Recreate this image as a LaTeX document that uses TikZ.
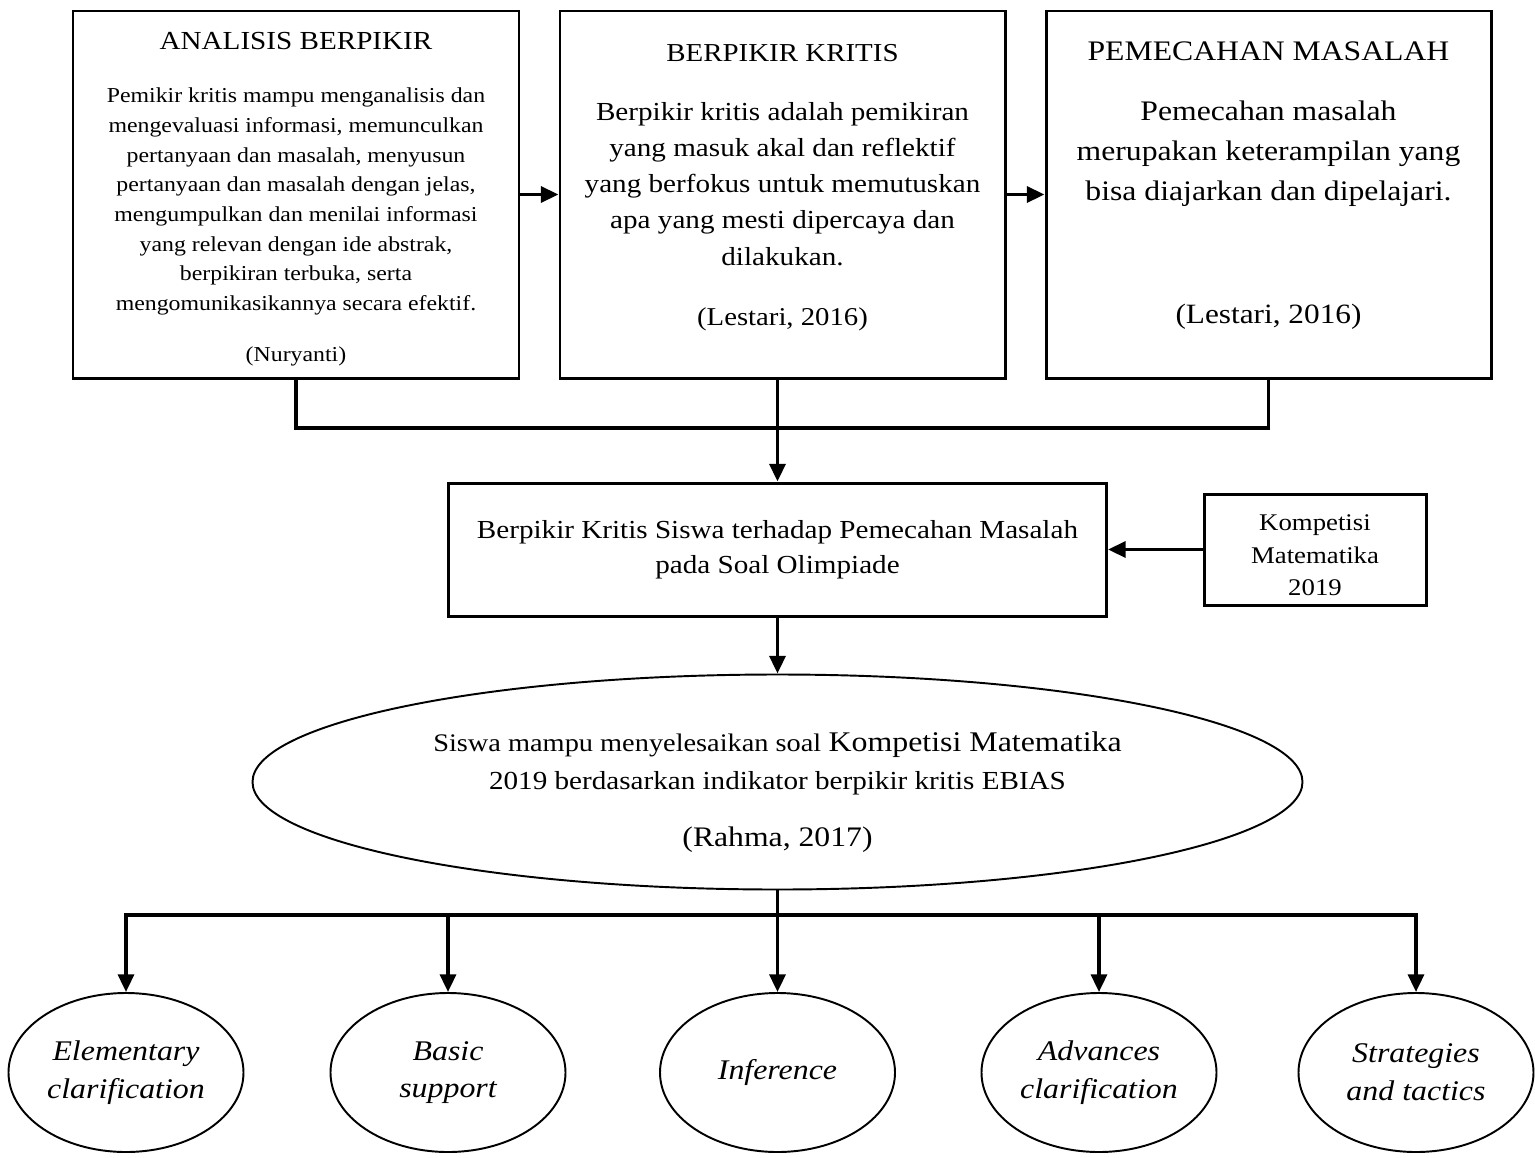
\documentclass[tikz,border=0pt]{standalone}
\usepackage{fontspec}
\setmainfont[FakeStretch=1.12]{Liberation Serif}
\usetikzlibrary{arrows.meta, shapes.geometric}
\newcommand{\fsz}[2]{\fontsize{#1}{#2}\selectfont}

\begin{document}
\begin{tikzpicture}[
    kotak/.style={draw, line width=1.7pt, inner sep=0pt},
    oval/.style={draw, ellipse, line width=1.1pt, inner sep=0pt, align=center},
    panah/.style={-{Triangle[length=10pt,width=9pt]}, line width=2pt},
    garis/.style={line width=2pt}
  ]
  \useasboundingbox (0,0) rectangle (30.7,-23.14);

  % tiga kotak atas
  \node[kotak, minimum width=8.92cm, minimum height=7.34cm] (b1) at (5.92,-3.89) {};
  \node[kotak, minimum width=8.9cm, minimum height=7.34cm] (b2) at (15.65,-3.89) {};
  \node[kotak, minimum width=8.9cm, minimum height=7.34cm] (b3) at (25.37,-3.89) {};

  \node[anchor=base, font=\fsz{14.8}{18}] (t1) at (5.92,-0.98) {ANALISIS BERPIKIR};
  \node[anchor=base, align=center, font=\fsz{12.1}{16.9}] (d1) at (5.92,-6.21)
    {Pemikir kritis mampu menganalisis dan\\
     mengevaluasi informasi, memunculkan\\
     pertanyaan dan masalah, menyusun\\
     pertanyaan dan masalah dengan jelas,\\
     mengumpulkan dan menilai informasi\\
     yang relevan dengan ide abstrak,\\
     berpikiran terbuka, serta\\
     mengomunikasikannya secara efektif.};
  \node[anchor=base, font=\fsz{12.1}{15}] (c1) at (5.92,-7.23) {(Nuryanti)};

  \node[anchor=base, font=\fsz{14.7}{18}] (t2) at (15.65,-1.23) {BERPIKIR KRITIS};
  \node[anchor=base, align=center, font=\fsz{14.8}{20.6}] (d2) at (15.65,-5.3)
    {Berpikir kritis adalah pemikiran\\
     yang masuk akal dan reflektif\\
     yang berfokus untuk memutuskan\\
     apa yang mesti dipercaya dan\\
     dilakukan.};
  \node[anchor=base, font=\fsz{14.6}{18}] (c2) at (15.65,-6.5) {(Lestari, 2016)};

  \node[anchor=base, font=\fsz{16.1}{19}] (t3) at (25.37,-1.2) {PEMECAHAN MASALAH};
  \node[anchor=base, align=center, font=\fsz{16.1}{22.7}] (d3) at (25.37,-4.0)
    {Pemecahan masalah\\
     merupakan keterampilan yang\\
     bisa diajarkan dan dipelajari.};
  \node[anchor=base, font=\fsz{15.9}{19}] (c3) at (25.37,-6.46) {(Lestari, 2016)};

  % kotak tengah
  \node[kotak, minimum width=13.16cm, minimum height=2.66cm, align=center,
        font=\fsz{14.8}{19.8}] (b4) at (15.55,-10.99)
    {Berpikir Kritis Siswa terhadap Pemecahan Masalah\\pada Soal Olimpiade};
  \node[kotak, minimum width=4.44cm, minimum height=2.22cm, align=center,
        font=\fsz{13.6}{18.5}] (b5) at (26.3,-10.99)
    {\rule{0pt}{16pt}Kompetisi\\Matematika\\2019};

  % elips besar
  \node[oval, minimum width=21cm, minimum height=4.3cm, font=\fsz{14.8}{21.5}] (e0) at (15.55,-15.64)
    {\rule{0pt}{23pt}{\fsz{14.4}{21.5}Siswa mampu menyelesaikan soal} {\fsz{16.2}{21.5}Kompetisi Matematika}\\
     2019 berdasarkan indikator berpikir kritis EBIAS\\[10.8pt]
     {\fsz{16.1}{21.5}(Rahma, 2017)}};

  % indikator EBIAS
  \node[oval, minimum width=4.7cm, minimum height=3.18cm, font=\itshape\fsz{16.2}{21.5}] (e1) at (2.52,-21.45) {Elementary\\clarification};
  \node[oval, minimum width=4.7cm, minimum height=3.18cm, font=\itshape\fsz{16.2}{21.5}] (e2) at (8.96,-21.45) {Basic\\support};
  \node[oval, minimum width=4.7cm, minimum height=3.18cm, font=\itshape\fsz{16.2}{21.5}] (e3) at (15.55,-21.45) {Inference};
  \node[oval, minimum width=4.7cm, minimum height=3.18cm, font=\itshape\fsz{16.2}{21.5}] (e4) at (21.98,-21.45) {Advances\\clarification};
  \node[oval, minimum width=4.7cm, minimum height=3.18cm, font=\itshape\fsz{16.2}{21.5}] (e5) at (28.32,-21.45) {Strategies\\and tactics};

  % penghubung
  \draw[panah] (b1.east) -- (b2.west);
  \draw[panah] (b2.east) -- (b3.west);
  \coordinate (j1) at (15.55,-8.56);
  \draw[garis] (b1.south) |- (j1) -| (b3.south);
  \draw[panah] (b2.south -| b4.north) -- (b4.north);
  \draw[panah] (b5.west) -- (b4.east);
  \draw[panah] (b4.south) -- (e0.north);

  \coordinate (j2) at (15.55,-18.3);
  \draw[garis] (e0.south) -- (j2);
  \draw[panah] (j2) -| (e1.north);
  \draw[panah] (j2) -| (e5.north);
  \foreach \n in {e2,e3,e4}
    \draw[panah] (\n.north |- j2) -- (\n.north);
\end{tikzpicture}
\end{document}
